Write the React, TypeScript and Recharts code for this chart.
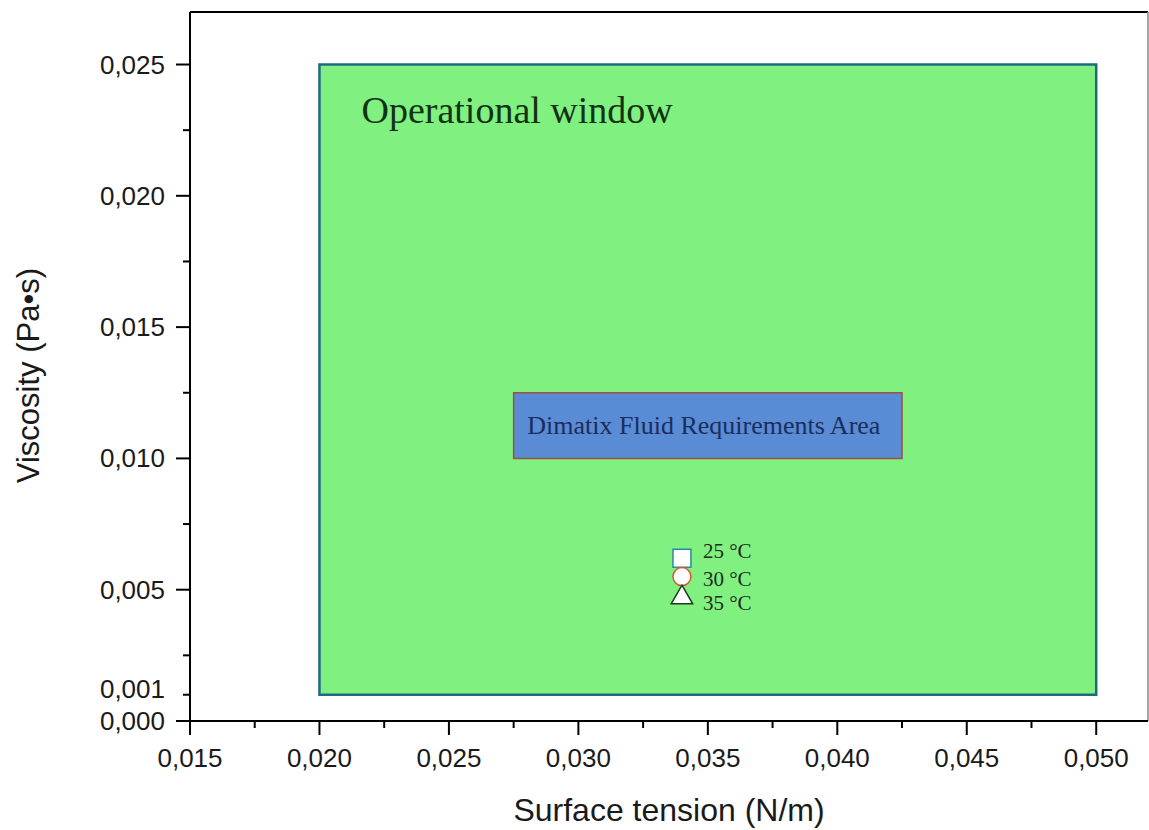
import { ScatterChart, Scatter, XAxis, YAxis, ReferenceArea, ReferenceLine, Label, Symbols } from 'recharts';

// axis ticks (major ones get long ticks + labels)
const xMajorTicks = [0.015, 0.02, 0.025, 0.03, 0.035, 0.04, 0.045, 0.05];
const xMinorTicks = [0.0175, 0.0225, 0.0275, 0.0325, 0.0375, 0.0425, 0.0475];
const yMajorTicks = [0, 0.005, 0.01, 0.015, 0.02, 0.025];
const yLabelledMinorTicks = [0.001];
const yMinorTicks = [0.0025, 0.0075, 0.0125, 0.0175, 0.0225];

const xDomain = [0.015, 0.052];
const yDomain = [0, 0.027];

// regions
const windowX = [0.02, 0.05];
const windowY = [0.001, 0.025];
const dimatixX = [0.0275, 0.0425];
const dimatixY = [0.01, 0.0125];

// measured ink
const temperatures = ['25 °C', '30 °C', '35 °C'];
const surfaceTension = [0.034, 0.034, 0.034];
const viscosity = [0.0062, 0.0055, 0.0047];

const MARKERS = [
    { type: 'square', size: 324, stroke: '#2b8c9c' },
    { type: 'circle', size: 254, stroke: '#d9532b' },
    { type: 'triangle', size: 200, stroke: '#1d3b1d' },
];
const LABEL_DY = [0, 9, 12];

const SANS = '"Liberation Sans", Arial, sans-serif';
const SERIF = '"Liberation Serif", "Times New Roman", serif';

const fmt = (v: number) => v.toFixed(3).replace('.', ',');

const XTick = ({ x, y, payload }: any) => {
    const v = payload.value;
    const major = xMajorTicks.includes(v);
    return (
        <g>
            <line x1={x} x2={x} y1={y} y2={y + (major ? 14 : 7)} stroke="#000" strokeWidth={2} />
            {major && (
                <text x={x} y={y + 46} textAnchor="middle" fontSize={26} fontFamily={SANS} fill="#1a1a1a">
                    {fmt(v)}
                </text>
            )}
        </g>
    );
};

const YTick = ({ x, y, payload }: any) => {
    const v = payload.value;
    const major = yMajorTicks.includes(v);
    const labelled = major || yLabelledMinorTicks.includes(v);
    return (
        <g>
            <line x1={x - (major ? 14 : 7)} x2={x} y1={y} y2={y} stroke="#000" strokeWidth={2} />
            {labelled && (
                <text
                    x={x - 25}
                    y={y + (v === 0.001 ? -6 : 0)}
                    textAnchor="end"
                    dominantBaseline="central"
                    fontSize={26}
                    fontFamily={SANS}
                    fill="#1a1a1a"
                >
                    {fmt(v)}
                </text>
            )}
        </g>
    );
};

export default function App() {
    const xTicks = [...xMajorTicks, ...xMinorTicks].sort((a, b) => a - b);
    const yTicks = [...yMajorTicks, ...yLabelledMinorTicks, ...yMinorTicks].sort((a, b) => a - b);

    return (
        <div style={{ position: 'absolute', left: 0, top: 0, width: 1149, height: 830, background: '#fff' }}>
            <ScatterChart width={1149} height={830} margin={{ top: 12, right: 1, bottom: 0, left: 0 }}>
                <XAxis
                    type="number"
                    dataKey="x"
                    domain={xDomain}
                    ticks={xTicks}
                    interval={0}
                    height={109}
                    tickSize={0}
                    tickMargin={0}
                    tickLine={false}
                    tick={<XTick />}
                    axisLine={{ stroke: '#000', strokeWidth: 2 }}
                >
                    <Label
                        content={({ viewBox }: any) => (
                            <text
                                x={viewBox.x + viewBox.width / 2}
                                y={viewBox.y + 100}
                                textAnchor="middle"
                                fontSize={32}
                                fontFamily={SANS}
                                fill="#1a1a1a"
                            >
                                Surface tension (N/m)
                            </text>
                        )}
                    />
                </XAxis>
                <YAxis
                    type="number"
                    dataKey="y"
                    domain={yDomain}
                    ticks={yTicks}
                    interval={0}
                    width={190}
                    tickSize={0}
                    tickMargin={0}
                    tickLine={false}
                    tick={<YTick />}
                    axisLine={{ stroke: '#000', strokeWidth: 2 }}
                >
                    <Label
                        content={({ viewBox }: any) => {
                            const cy = viewBox.y + viewBox.height / 2 + 9;
                            return (
                                <text
                                    x={39}
                                    y={cy}
                                    transform={`rotate(-90, 39, ${cy})`}
                                    textAnchor="middle"
                                    fontSize={31}
                                    fontFamily={SANS}
                                    fill="#1a1a1a"
                                >
                                    Viscosity (Pa•s)
                                </text>
                            );
                        }}
                    />
                </YAxis>

                {/* frame: top and right edges */}
                <ReferenceLine y={yDomain[1]} stroke="#000" strokeWidth={2} />
                <ReferenceLine x={xDomain[1]} stroke="#8a8a8a" strokeWidth={1.5} />

                <ReferenceArea
                    x1={windowX[0]}
                    x2={windowX[1]}
                    y1={windowY[0]}
                    y2={windowY[1]}
                    fill="#80f080"
                    fillOpacity={1}
                    stroke="#1e6b80"
                    strokeWidth={2.5}
                >
                    <Label
                        content={({ viewBox }: any) => (
                            <text x={viewBox.x + 42} y={viewBox.y + 58} fontSize={38} fontFamily={SERIF} fill="#123312">
                                Operational window
                            </text>
                        )}
                    />
                </ReferenceArea>
                <ReferenceArea
                    x1={dimatixX[0]}
                    x2={dimatixX[1]}
                    y1={dimatixY[0]}
                    y2={dimatixY[1]}
                    fill="#5a8bd5"
                    fillOpacity={1}
                    stroke="#a0503c"
                    strokeWidth={1.5}
                >
                    <Label
                        content={({ viewBox }: any) => (
                            <text
                                x={viewBox.x + viewBox.width / 2 - 4}
                                y={viewBox.y + viewBox.height / 2 + 8}
                                textAnchor="middle"
                                fontSize={26}
                                fontFamily={SERIF}
                                fill="#1b2d5c"
                            >
                                Dimatix Fluid Requirements Area
                            </text>
                        )}
                    />
                </ReferenceArea>

                {temperatures.map((t, i) => (
                    <Scatter
                        key={t}
                        name={t}
                        data={[{ x: surfaceTension[i], y: viscosity[i], label: t }]}
                        isAnimationActive={false}
                        shape={(p: any) => (
                            <g>
                                <Symbols
                                    cx={p.cx}
                                    cy={p.cy}
                                    type={MARKERS[i].type as any}
                                    size={MARKERS[i].size}
                                    fill="#fff"
                                    stroke={MARKERS[i].stroke}
                                    strokeWidth={1.5}
                                />
                                <text
                                    x={p.cx + 21}
                                    y={p.cy + LABEL_DY[i]}
                                    fontSize={21}
                                    fontFamily={SERIF}
                                    fill="#1a2e1a"
                                >
                                    {t}
                                </text>
                            </g>
                        )}
                    />
                ))}
            </ScatterChart>
        </div>
    );
}
